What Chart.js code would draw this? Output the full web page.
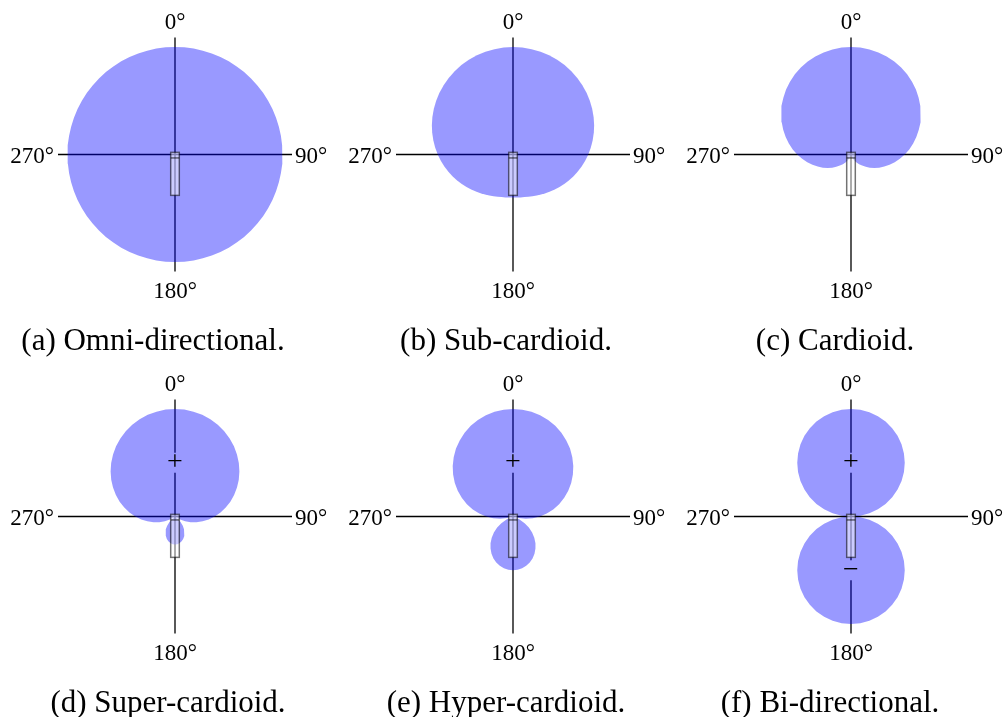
<!DOCTYPE html>
<html>
<head>
<meta charset="utf-8">
<title>Microphone polar patterns</title>
<script src="https://cdn.jsdelivr.net/npm/chart.js@4.4.1/dist/chart.umd.min.js"></script>
<style>
  html, body { margin: 0; padding: 0; background: #fff; overflow: hidden; }
  #wrap { position: relative; width: 1005px; height: 717px; }
  #wrap canvas { position: absolute; }
</style>
</head>
<body>
<div id="wrap"></div>
<script>
// Pickup angle in degrees (right half; the left half is the mirror image)
const angles = [0, 5, 10, 15, 20, 25, 30, 35, 40, 45, 50, 55, 60, 65, 70, 75, 80, 85, 90,
  95, 100, 105, 110, 115, 120, 125, 130, 135, 140, 145, 150, 155, 160, 165, 170, 175, 180];

// Relative sensitivity at each angle
const omni = [1, 1, 1, 1, 1, 1, 1, 1, 1, 1, 1, 1, 1, 1, 1, 1, 1, 1, 1,
  1, 1, 1, 1, 1, 1, 1, 1, 1, 1, 1, 1, 1, 1, 1, 1, 1, 1];
const subCardioid = [1.000, 0.999, 0.995, 0.990, 0.982, 0.972, 0.960, 0.946, 0.930, 0.912,
  0.893, 0.872, 0.850, 0.827, 0.803, 0.778, 0.752, 0.726, 0.700, 0.674, 0.648, 0.622,
  0.597, 0.573, 0.550, 0.528, 0.507, 0.488, 0.470, 0.454, 0.440, 0.428, 0.418, 0.410,
  0.405, 0.401, 0.400];
const cardioid = [1.000, 0.998, 0.992, 0.983, 0.970, 0.953, 0.933, 0.910, 0.883, 0.854,
  0.821, 0.787, 0.750, 0.711, 0.671, 0.629, 0.587, 0.544, 0.500, 0.456, 0.413, 0.371,
  0.329, 0.289, 0.250, 0.213, 0.179, 0.146, 0.117, 0.090, 0.067, 0.047, 0.030, 0.017,
  0.008, 0.002, 0.000];
const superCardioid = [1.000, 0.998, 0.990, 0.979, 0.962, 0.941, 0.916, 0.886, 0.853, 0.815,
  0.775, 0.731, 0.685, 0.636, 0.585, 0.533, 0.479, 0.425, 0.370, 0.315, 0.261, 0.207,
  0.155, 0.104, 0.055, 0.009, 0.035, 0.075, 0.113, 0.146, 0.176, 0.201, 0.222, 0.239,
  0.250, 0.258, 0.260];
const hyperCardioid = [1.000, 0.997, 0.989, 0.974, 0.955, 0.930, 0.900, 0.864, 0.825, 0.780,
  0.732, 0.680, 0.625, 0.567, 0.507, 0.444, 0.380, 0.315, 0.250, 0.185, 0.120, 0.056,
  0.007, 0.067, 0.125, 0.180, 0.232, 0.280, 0.325, 0.364, 0.400, 0.430, 0.455, 0.474,
  0.489, 0.497, 0.500];
const biDirectional = [1.000, 0.996, 0.985, 0.966, 0.940, 0.906, 0.866, 0.819, 0.766, 0.707,
  0.643, 0.574, 0.500, 0.423, 0.342, 0.259, 0.174, 0.087, 0.000, 0.087, 0.174, 0.259,
  0.342, 0.423, 0.500, 0.574, 0.643, 0.707, 0.766, 0.819, 0.866, 0.906, 0.940, 0.966,
  0.985, 0.996, 1.000];

const patterns = [omni, subCardioid, cardioid, superCardioid, hyperCardioid, biDirectional];
const captions = ["(a) Omni-directional.", "(b) Sub-cardioid.", "(c) Cardioid.",
  "(d) Super-cardioid.", "(e) Hyper-cardioid.", "(f) Bi-directional."];
// Polarity marks on the lobes: [text, radius along 0° (+) or 180° (-)]
const signs = [[], [], [], [["+", 0.5]], [["+", 0.5]], [["+", 0.5], ["\u2212", -0.5]]];
const axisLabels = { top: "0°", right: "90°", bottom: "180°", left: "270°" };

// page placement
const canvasLeft = [8, 346, 684];
const canvasTop = [0, 362];
const captionX = [[145, 160, 151], [160, 160, 146]];
const W = 334, H = 362;
const LIM = 1.088;
const serif = '"Liberation Serif", "DejaVu Serif", serif';

// closed outline: right half going down, then left half going back up
function outline(gain) {
  const pts = [];
  angles.forEach((deg, i) => {
    const t = deg * Math.PI / 180;
    pts.push({ x: gain[i] * Math.sin(t), y: gain[i] * Math.cos(t) });
  });
  for (let i = angles.length - 2; i >= 0; i--) {
    const t = angles[i] * Math.PI / 180;
    pts.push({ x: -gain[i] * Math.sin(t), y: gain[i] * Math.cos(t) });
  }
  return pts;
}

const panelLayer = {
  id: 'panelLayer',
  beforeDatasetsDraw(chart, args, opts) {
    const { ctx, chartArea: a, scales: { x, y } } = chart;
    const x0 = x.getPixelForValue(0), y0 = y.getPixelForValue(0);
    ctx.save();
    ctx.strokeStyle = '#000';
    ctx.lineWidth = 1.3;
    ctx.beginPath();
    ctx.moveTo(x0, a.top); ctx.lineTo(x0, a.bottom);
    ctx.moveTo(a.left, y0); ctx.lineTo(a.right, y0);
    ctx.stroke();
    // blank the axis behind the polarity marks
    ctx.fillStyle = '#fff';
    for (const [, r] of opts.signs) {
      const py = y.getPixelForValue(r);
      ctx.fillRect(x0 - 8, py - 10, 16, 20);
    }
    ctx.restore();
  },
  afterDatasetsDraw(chart, args, opts) {
    const { ctx, chartArea: a, scales: { x, y } } = chart;
    const x0 = x.getPixelForValue(0), y0 = y.getPixelForValue(0);
    ctx.save();

    // microphone capsule
    const hw = x.getPixelForValue(0.04) - x0;
    const top = y.getPixelForValue(0.02);
    const cap = y.getPixelForValue(-0.032);
    const bot = y.getPixelForValue(-0.38);
    ctx.fillStyle = 'rgba(255,255,255,0.5)';
    ctx.strokeStyle = 'rgba(0,0,0,0.55)';
    ctx.lineWidth = 1.5;
    ctx.fillRect(x0 - hw, top, 2 * hw, bot - top);
    ctx.strokeRect(x0 - hw, top, 2 * hw, bot - top);
    ctx.beginPath();
    ctx.moveTo(x0 - hw, cap); ctx.lineTo(x0 + hw, cap);
    ctx.stroke();

    ctx.fillStyle = '#000';
    ctx.font = '28px ' + serif;
    ctx.textAlign = 'center';
    ctx.textBaseline = 'middle';
    for (const [s, r] of opts.signs) {
      ctx.fillText(s, x0, y.getPixelForValue(r));
    }

    ctx.font = '23px ' + serif;
    ctx.textBaseline = 'alphabetic';
    ctx.fillText(axisLabels.top, x0, a.top - 9);
    ctx.fillText(axisLabels.bottom, x0, a.bottom + 26);
    ctx.textAlign = 'right';
    ctx.fillText(axisLabels.left, a.left - 4, y0 + 8.5);
    ctx.textAlign = 'left';
    ctx.fillText(axisLabels.right, a.right + 3, y0 + 8.5);

    ctx.font = '31px ' + serif;
    ctx.textAlign = 'center';
    ctx.fillText(opts.caption, opts.captionX, 350);
    ctx.restore();
  }
};

const wrap = document.getElementById('wrap');
patterns.forEach((gain, k) => {
  const row = Math.floor(k / 3), col = k % 3;
  const cv = document.createElement('canvas');
  cv.width = W; cv.height = H;
  cv.style.left = canvasLeft[col] + 'px';
  cv.style.top = canvasTop[row] + 'px';
  wrap.appendChild(cv);

  new Chart(cv.getContext('2d'), {
    type: 'scatter',
    data: {
      datasets: [{
        data: outline(gain),
        showLine: true,
        fill: 'shape',
        backgroundColor: 'rgba(0,0,255,0.4)',
        borderColor: 'rgba(0,0,0,0)',
        borderWidth: 0,
        pointRadius: 0,
        tension: 0
      }]
    },
    options: {
      responsive: false,
      animation: false,
      events: [],
      layout: { padding: { left: 50, right: 50, top: 37.5, bottom: 90.5 } },
      scales: {
        x: { type: 'linear', min: -LIM, max: LIM, display: false },
        y: { type: 'linear', min: -LIM, max: LIM, display: false }
      },
      plugins: {
        legend: { display: false },
        tooltip: { enabled: false },
        panelLayer: { signs: signs[k], caption: captions[k], captionX: captionX[row][col] }
      }
    },
    plugins: [panelLayer]
  });
});
</script>
</body>
</html>
